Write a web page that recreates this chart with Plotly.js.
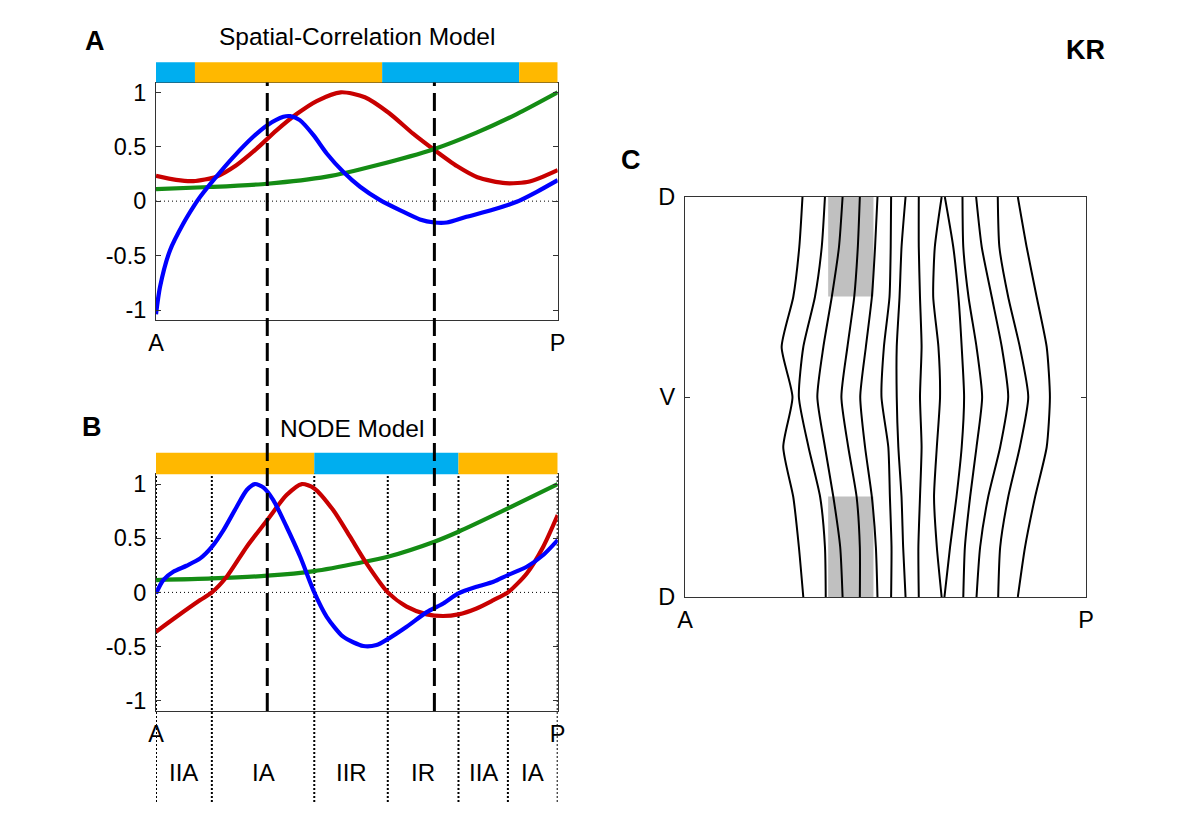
<!DOCTYPE html>
<html>
<head>
<meta charset="utf-8">
<script src="https://cdn.plot.ly/plotly-3.0.1.min.js"></script>
<style>html,body{margin:0;padding:0;background:#fff;}#chart{width:1200px;height:819px;}</style>
</head>
<body>
<div id="chart"></div>
<script>
// ---------- Panel A: Spatial-Correlation Model ----------
const aRedX = [0, 0.05, 0.093, 0.15, 0.2, 0.25, 0.3, 0.35, 0.4, 0.46, 0.52, 0.58, 0.64, 0.693, 0.75, 0.8, 0.87, 0.93, 1];
const aRedY = [0.233, 0.195, 0.184, 0.225, 0.33, 0.48, 0.65, 0.80, 0.92, 1.0, 0.955, 0.81, 0.62, 0.47, 0.32, 0.22, 0.165, 0.18, 0.285];
const aGreenX = [0, 0.134, 0.277, 0.425, 0.549, 0.693, 0.798, 0.898, 1];
const aGreenY = [0.11, 0.13, 0.16, 0.225, 0.33, 0.48, 0.63, 0.80, 1.0];
const aBlueX = [0, 0.01, 0.035, 0.068, 0.093, 0.11, 0.143, 0.193, 0.242, 0.277, 0.317, 0.334, 0.358, 0.392, 0.425, 0.466, 0.508, 0.558, 0.607, 0.657, 0.693, 0.724, 0.773, 0.84, 0.898, 0.948, 1];
const aBlueY = [-1.04, -0.787, -0.45, -0.205, -0.052, 0.04, 0.193, 0.407, 0.591, 0.698, 0.775, 0.781, 0.744, 0.606, 0.438, 0.27, 0.132, 0.009, -0.083, -0.168, -0.196, -0.196, -0.144, -0.077, -0.006, 0.086, 0.193];
const aBandEdges = [0, 0.097, 0.563, 0.904, 1];
const aBandKinds = ['R', 'A', 'R', 'A'];

// ---------- Panel B: NODE Model ----------
const bBlueX = [0, 0.018, 0.043, 0.076, 0.11, 0.139, 0.168, 0.201, 0.226, 0.246, 0.267, 0.292, 0.325, 0.359, 0.394, 0.425, 0.466, 0.516, 0.549, 0.577, 0.624, 0.674, 0.715, 0.753, 0.798, 0.84, 0.876, 0.923, 0.964, 1];
const bBlueY = [-0.01, 0.114, 0.19, 0.246, 0.314, 0.42, 0.575, 0.791, 0.945, 1.0, 0.969, 0.852, 0.606, 0.329, 0.0, -0.225, -0.409, -0.495, -0.486, -0.431, -0.317, -0.182, -0.102, -0.009, 0.052, 0.098, 0.16, 0.237, 0.345, 0.483];
const bRedX = [0, 0.051, 0.11, 0.139, 0.176, 0.226, 0.277, 0.325, 0.363, 0.394, 0.441, 0.483, 0.524, 0.577, 0.624, 0.674, 0.715, 0.753, 0.798, 0.84, 0.876, 0.923, 0.964, 1];
const bRedY = [-0.363, -0.225, -0.071, 0, 0.145, 0.422, 0.668, 0.898, 1.0, 0.96, 0.76, 0.514, 0.268, 0, -0.132, -0.203, -0.218, -0.203, -0.148, -0.071, 0, 0.175, 0.422, 0.714];
const bGreenX = [0, 0.139, 0.277, 0.394, 0.508, 0.577, 0.693, 0.753, 0.876, 1];
const bGreenY = [0.114, 0.129, 0.154, 0.197, 0.274, 0.329, 0.468, 0.56, 0.775, 1.0];
const bBandEdges = [0, 0.394, 0.753, 1];
const bBandKinds = ['A', 'R', 'A'];
const bZoneEdges = [0, 0.139, 0.394, 0.577, 0.753, 0.876, 1];
const bZoneLabels = ['IIA', 'IA', 'IIR', 'IR', 'IIA', 'IA'];

// dashed reference positions (shared by A and B)
const dashX = [0.277, 0.693];

// ---------- Panel C: contour lines ----------
const cY = [0, 0.125, 0.25, 0.375, 0.5, 0.625, 0.75, 0.875, 1];
const cLines = [
  [0.293, 0.285, 0.270, 0.241, 0.268, 0.245, 0.270, 0.284, 0.295],
  [0.349, 0.341, 0.324, 0.295, 0.284, 0.308, 0.337, 0.349, 0.351],
  [0.393, 0.384, 0.366, 0.345, 0.330, 0.349, 0.370, 0.387, 0.393],
  [0.436, 0.431, 0.422, 0.405, 0.390, 0.407, 0.428, 0.436, 0.436],
  [0.480, 0.474, 0.466, 0.451, 0.437, 0.449, 0.466, 0.476, 0.480],
  [0.514, 0.513, 0.510, 0.496, 0.490, 0.507, 0.511, 0.515, 0.514],
  [0.550, 0.540, 0.535, 0.528, 0.528, 0.532, 0.540, 0.544, 0.550],
  [0.583, 0.583, 0.586, 0.590, 0.586, 0.590, 0.586, 0.582, 0.583],
  [0.640, 0.623, 0.619, 0.632, 0.636, 0.628, 0.621, 0.628, 0.640],
  [0.648, 0.669, 0.682, 0.690, 0.696, 0.690, 0.677, 0.661, 0.647],
  [0.692, 0.694, 0.707, 0.727, 0.741, 0.727, 0.711, 0.698, 0.694],
  [0.726, 0.740, 0.765, 0.790, 0.806, 0.786, 0.756, 0.736, 0.727],
  [0.780, 0.784, 0.806, 0.835, 0.856, 0.835, 0.806, 0.786, 0.781],
  [0.830, 0.852, 0.877, 0.902, 0.910, 0.902, 0.873, 0.848, 0.830]
];
const cGrayX = [0.357, 0.470];
const cGrayY = [[0, 0.249], [0.749, 1]];

// ---------- styling ----------
const FONT = 'Liberation Sans, Arial, Helvetica, sans-serif';
const RED = '#c80000', BLUE = '#0000ff', GREEN = '#148c14';
const BANDCOL = {A: '#ffb800', R: '#00aeef'};
const LW = 4.2;

const traces = [];
function curve(x, y, color, xa, ya) {
  traces.push({x: x, y: y, xaxis: xa, yaxis: ya, type: 'scatter', mode: 'lines',
    line: {color: color, width: LW, shape: 'spline', smoothing: 0.7}, hoverinfo: 'skip', showlegend: false});
}
curve(aRedX, aRedY, RED, 'x', 'y');
curve(aGreenX, aGreenY, GREEN, 'x', 'y');
curve(aBlueX, aBlueY, BLUE, 'x', 'y');
curve(bGreenX, bGreenY, GREEN, 'x2', 'y2');
curve(bRedX, bRedY, RED, 'x2', 'y2');
curve(bBlueX, bBlueY, BLUE, 'x2', 'y2');
cLines.forEach(function (lx) {
  traces.push({x: lx, y: cY, xaxis: 'x3', yaxis: 'y3', type: 'scatter', mode: 'lines',
    line: {color: '#000', width: 2, shape: 'spline', smoothing: 0.6}, hoverinfo: 'skip', showlegend: false});
});

// pixel helpers for paper coords
const W = 1200, H = 819;
const py = function (p) { return 1 - p / H; };

const shapes = [];
// colour bars
function bands(edges, kinds, xref, yTop, yBot) {
  for (let i = 0; i < kinds.length; i++) {
    shapes.push({type: 'rect', xref: xref, yref: 'paper', x0: edges[i], x1: edges[i + 1],
      y0: py(yBot), y1: py(yTop), fillcolor: BANDCOL[kinds[i]], line: {width: 0}, layer: 'above'});
  }
}
bands(aBandEdges, aBandKinds, 'x', 62.3, 82.5);
bands(bBandEdges, bBandKinds, 'x2', 452.7, 474.3);
// zero lines
shapes.push({type: 'line', xref: 'x', yref: 'y', x0: 0, x1: 1, y0: 0, y1: 0, line: {color: '#000', width: 1, dash: '1px,3px'}, layer: 'below'});
shapes.push({type: 'line', xref: 'x2', yref: 'y2', x0: 0, x1: 1, y0: 0, y1: 0, line: {color: '#000', width: 1, dash: '1px,3px'}, layer: 'below'});
// dotted zone boundaries in B
bZoneEdges.forEach(function (e) {
  shapes.push({type: 'line', xref: 'x2', yref: 'paper', x0: e, x1: e, y0: py(802), y1: py(474.3),
    line: {color: '#000', width: 2, dash: '2px,2px'}, layer: 'below'});
});
// long dashed lines spanning A and B
dashX.forEach(function (d) {
  shapes.push({type: 'line', xref: 'x', yref: 'paper', x0: d, x1: d, y0: py(711), y1: py(82.5),
    line: {color: '#000', width: 3, dash: '18px,7px'}, layer: 'above'});
});
// gray rectangles in C
cGrayY.forEach(function (gy) {
  shapes.push({type: 'rect', xref: 'x3', yref: 'y3', x0: cGrayX[0], x1: cGrayX[1], y0: gy[0], y1: gy[1],
    fillcolor: '#c0c0c0', line: {width: 0}, layer: 'below'});
});

const annotations = [];
function txt(text, x, y, size, bold, xref) {
  annotations.push({text: bold ? '<b>' + text + '</b>' : text, x: x, y: y, xref: xref || 'paper', yref: 'paper',
    xanchor: 'center', yanchor: 'middle', showarrow: false, font: {family: FONT, size: size, color: '#000'}});
}
txt('Spatial-Correlation Model', 357 / W, py(37), 24.5, false);
txt('NODE Model', 352 / W, py(428.5), 24.5, false);
txt('A', 95 / W, py(41), 27, true);
txt('B', 92 / W, py(427), 27, true);
txt('C', 631 / W, py(160), 27, true);
txt('KR', 1085 / W, py(50), 27, true);
for (let i = 0; i < bZoneLabels.length; i++) {
  txt(bZoneLabels[i], (bZoneEdges[i] + bZoneEdges[i + 1]) / 2, py(772), 24, false, 'x2');
}

const tickFont = {family: FONT, size: 23.5, color: '#000'};
const axLine = '#333';
function yax(domain, range) {
  return {domain: domain, range: range, tickvals: [-1, -0.5, 0, 0.5, 1], ticktext: ['-1', '-0.5', '0', '0.5', '1'],
    ticks: 'inside', ticklen: 5, tickwidth: 1, tickcolor: axLine, showline: true, linecolor: axLine, linewidth: 1,
    mirror: 'ticks', showgrid: false, zeroline: false, tickfont: tickFont, ticklabelstandoff: 4, fixedrange: true};
}
function xax(domain, anchor) {
  return {domain: domain, range: [0, 1], anchor: anchor, tickvals: [0, 1], ticktext: ['A', 'P'],
    ticks: '', showline: true, linecolor: axLine, linewidth: 1, mirror: true, showgrid: false, zeroline: false,
    tickfont: tickFont, ticklabelstandoff: 2, fixedrange: true};
}
const xDomAB = [156 / W, 557.7 / W];

const layout = {
  width: W, height: H, margin: {l: 0, r: 0, t: 0, b: 0}, paper_bgcolor: '#fff', plot_bgcolor: '#fff',
  showlegend: false, font: {family: FONT, color: '#000'},
  xaxis: xax(xDomAB, 'y'),
  yaxis: Object.assign(yax([py(319.8), py(82.5)], [-1.09, 1.09]), {anchor: 'x'}),
  xaxis2: xax(xDomAB, 'y2'),
  yaxis2: Object.assign(yax([py(710.5), py(474.3)], [-1.09, 1.09]), {anchor: 'x2'}),
  xaxis3: xax([685 / W, 1086 / W], 'y3'),
  yaxis3: {domain: [py(597), py(197)], range: [1, 0], anchor: 'x3', tickvals: [0, 0.5, 1], ticktext: ['D', 'V', 'D'],
    ticks: 'inside', ticklen: 5, tickcolor: axLine, showline: true, linecolor: axLine, linewidth: 1, mirror: 'ticks',
    showgrid: false, zeroline: false, tickfont: tickFont, ticklabelstandoff: 4, fixedrange: true},
  shapes: shapes,
  annotations: annotations
};

Plotly.newPlot('chart', traces, layout, {staticPlot: true, displayModeBar: false});
</script>
</body>
</html>
